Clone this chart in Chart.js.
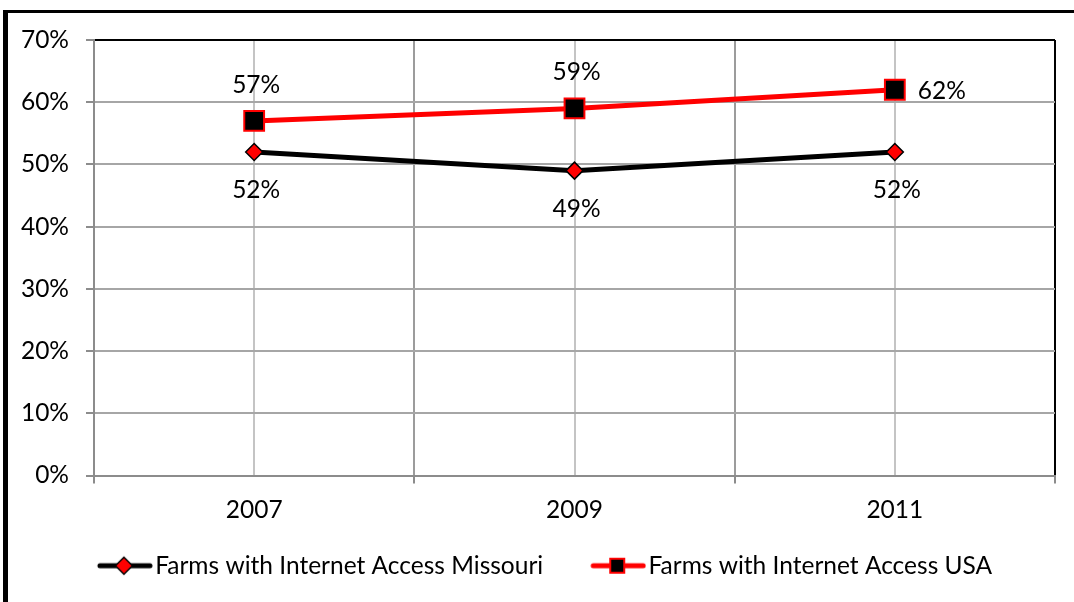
<!DOCTYPE html>
<html>
<head>
<meta charset="utf-8">
<script src="https://cdn.jsdelivr.net/npm/chart.js@4/dist/chart.umd.min.js"></script>
<style>
  html, body { margin: 0; padding: 0; background: #fff; }
  #wrap { width: 1074px; height: 602px; }
</style>
</head>
<body>
<div id="wrap"><canvas id="linechart" width="1074" height="602"></canvas></div>
<script>
const years = [2007, 2009, 2011];
const missouri = [52, 49, 52];
const usa = [57, 59, 62];
const yTicks = [0, 10, 20, 30, 40, 50, 60, 70];

const FONT = 'Lato, "Liberation Sans", sans-serif';
const FSIZE = 24.5;

// legend swatch: line with the series marker, drawn in the right 56px
// of a wider transparent canvas so items sit where they should
function keyImage(lineColor, marker) {
  const c = document.createElement('canvas');
  c.width = 100; c.height = 22;
  const g = c.getContext('2d');
  const ox = 44;
  g.lineCap = 'round';
  g.strokeStyle = lineColor;
  g.lineWidth = 5;
  g.beginPath(); g.moveTo(ox + 3, 11); g.lineTo(ox + 53, 11); g.stroke();
  if (marker === 'diamond') {
    g.beginPath();
    g.moveTo(ox + 27, 2.5); g.lineTo(ox + 35.5, 11); g.lineTo(ox + 27, 19.5); g.lineTo(ox + 18.5, 11); g.closePath();
    g.fillStyle = '#ff0000'; g.fill();
    g.lineWidth = 1.5; g.strokeStyle = '#000'; g.stroke();
  } else {
    g.fillStyle = '#000';
    g.fillRect(ox + 20, 4, 14, 14);
    g.lineWidth = 2; g.strokeStyle = '#ff0000';
    g.strokeRect(ox + 20, 4, 14, 14);
  }
  return c;
}

const framePlugin = {
  id: 'frame',
  beforeDraw(chart) {
    const c = chart.ctx;
    c.save();
    c.fillStyle = '#fff';
    c.fillRect(0, 0, chart.width, chart.height);
    c.fillStyle = '#000';
    c.fillRect(3, 10, 5, chart.height - 10);
    c.fillRect(3, 10, chart.width - 3, 3);
    c.restore();
  }
};

const valueLabels = {
  id: 'valueLabels',
  afterDatasetsDraw(chart) {
    const c = chart.ctx;
    c.save();
    c.font = FSIZE + 'px ' + FONT;
    c.fillStyle = '#000';
    c.textBaseline = 'middle';
    chart.data.datasets.forEach((ds, i) => {
      chart.getDatasetMeta(i).data.forEach((pt, j) => {
        const txt = ds.data[j].y + '%';
        const where = ds.labelPlace[j];
        if (where === 'right') {
          c.textAlign = 'left';
          c.fillText(txt, pt.x + 23, pt.y + 1);
        } else {
          c.textAlign = 'center';
          c.fillText(txt, pt.x + 2, where === 'above' ? pt.y - 36 : pt.y + 38);
        }
      });
    });
    c.restore();
  }
};

const ctx = document.getElementById('linechart').getContext('2d');
new Chart(ctx, {
  type: 'line',
  data: {
    datasets: [
      {
        label: 'Farms with Internet Access Missouri',
        data: years.map((yr, i) => ({ x: yr, y: missouri[i] })),
        borderColor: '#000',
        borderWidth: 5,
        pointStyle: 'rectRot',
        pointRadius: 8.5,
        pointBackgroundColor: '#ff0000',
        pointBorderColor: '#000',
        pointBorderWidth: 1.5,
        tension: 0,
        labelPlace: ['below', 'below', 'below'],
        keyStyle: keyImage('#000', 'diamond')
      },
      {
        label: 'Farms with Internet Access USA',
        data: years.map((yr, i) => ({ x: yr, y: usa[i] })),
        borderColor: '#ff0000',
        borderWidth: 5,
        pointStyle: 'rect',
        pointRadius: 14,
        pointBackgroundColor: '#000',
        pointBorderColor: '#ff0000',
        pointBorderWidth: 2,
        tension: 0,
        labelPlace: ['above', 'above', 'right'],
        keyStyle: keyImage('#ff0000', 'square')
      }
    ]
  },
  options: {
    responsive: false,
    animation: false,
    layout: { padding: { left: 0, right: 19, top: 40, bottom: 14 } },
    plugins: {
      tooltip: { enabled: false },
      legend: {
        position: 'bottom',
        labels: {
          usePointStyle: true,
          pointStyleWidth: 80,
          padding: 13,
          color: '#000',
          font: { family: FONT, size: FSIZE },
          generateLabels(chart) {
            return chart.data.datasets.map((ds, i) => ({
              text: ds.label,
              pointStyle: ds.keyStyle,
              fontColor: '#000',
              datasetIndex: i,
              hidden: false,
              lineWidth: 0
            }));
          }
        }
      }
    },
    scales: {
      x: {
        type: 'linear',
        min: 2006,
        max: 2012,
        afterFit(scale) { scale.height = 65; },
        ticks: {
          stepSize: 1,
          autoSkip: false,
          maxRotation: 0,
          padding: 12,
          color: '#000',
          font: { family: FONT, size: FSIZE },
          callback: v => (years.includes(v) ? String(v) : '')
        },
        grid: {
          lineWidth: 2,
          tickLength: 8,
          color: c => (c.tick && c.tick.value === 2012 ? '#000' : (years.includes(c.tick && c.tick.value) ? '#c4c4c4' : '#9c9c9c')),
          tickColor: c => (years.includes(c.tick && c.tick.value) ? 'rgba(0,0,0,0)' : '#8c8c8c')
        },
        border: { color: '#8c8c8c', width: 2 }
      },
      y: {
        min: 0,
        max: 70,
        afterFit(scale) { scale.width = 94; },
        afterBuildTicks(scale) { scale.ticks = yTicks.map(v => ({ value: v })); },
        ticks: {
          padding: 17,
          color: '#000',
          font: { family: FONT, size: FSIZE },
          callback: v => v + '%'
        },
        grid: {
          lineWidth: 2,
          tickLength: 8,
          color: c => (c.tick && c.tick.value === 70 ? '#000' : '#a6a6a6'),
          tickColor: '#8c8c8c'
        },
        border: { color: '#8c8c8c', width: 2 }
      }
    }
  },
  plugins: [framePlugin, valueLabels]
});
</script>
</body>
</html>
